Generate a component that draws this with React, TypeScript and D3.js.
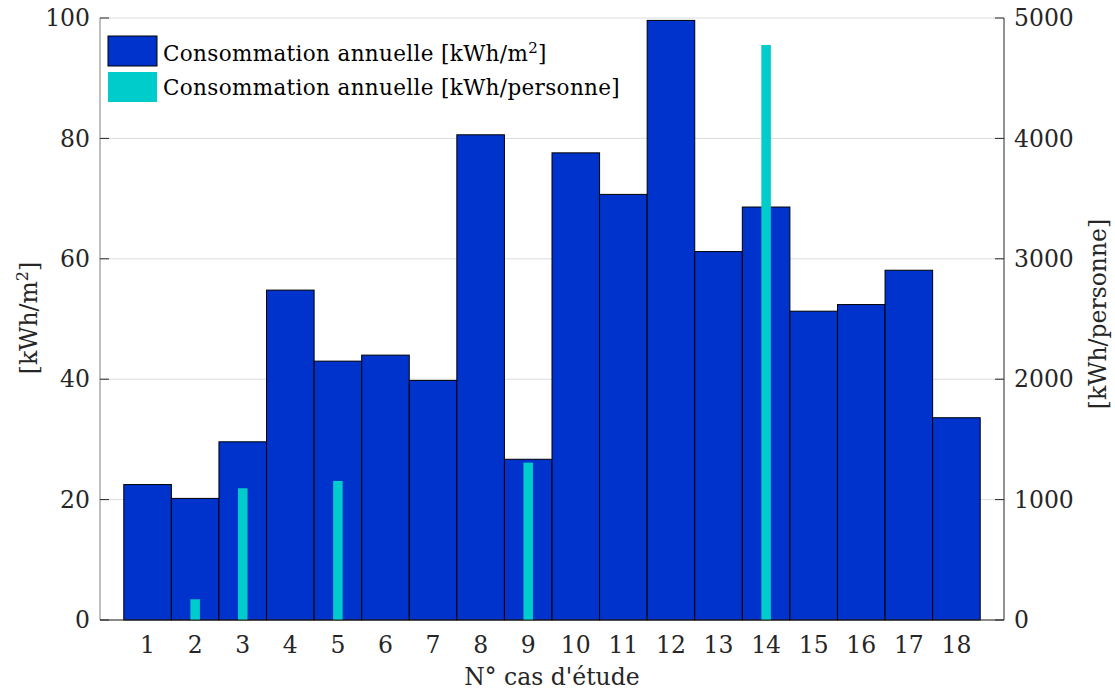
import React from "react";
import * as d3 from "d3";

const categories = [1,2,3,4,5,6,7,8,9,10,11,12,13,14,15,16,17,18];
const consoM2 = [22.5,20.2,29.6,54.8,43.0,44.0,39.8,80.6,26.7,77.6,70.7,99.6,61.2,68.6,51.3,52.4,58.1,33.6];
const consoPers = [0,172,1094,0,1155,0,0,0,1307,0,0,0,0,4776,0,0,0,0];
const leftTicks = [0,20,40,60,80,100];
const rightTicks = [0,1000,2000,3000,4000,5000];

const W = 1115, H = 691;
const L = 100, R = 1004, T = 18, B = 620;
const FONT = "'DejaVu Serif', serif";
const BLUE = "#0033cc";
const CYAN = "#00cccc";
const FS = 23.5;
const LFS = 21.5;

export default function App() {
  const x = d3.scaleLinear().domain([0, 19]).range([L, R]);
  const yL = d3.scaleLinear().domain([0, 100]).range([B, T]);
  const yR = d3.scaleLinear().domain([0, 5000]).range([B, T]);
  const bw = x(1) - x(0);
  const cw = bw * 0.2;
  return (
    <svg width={W} height={H} style={{ position: "absolute", left: 0, top: 0, background: "#fff" }} fontFamily={FONT}>
      <rect x={0} y={0} width={W} height={H} fill="#fff" />
      {leftTicks.map((t) => (
        <line key={"g" + t} x1={L} x2={R} y1={yL(t)} y2={yL(t)} stroke="#dcdcdc" strokeWidth={1} />
      ))}
      {categories.map((c, i) => (
        <rect key={"b" + c} x={x(c) - bw / 2} y={yL(consoM2[i])} width={bw} height={B - yL(consoM2[i])}
          fill={BLUE} stroke="#000" strokeWidth={1} />
      ))}
      {categories.map((c, i) => consoPers[i] > 0 ? (
        <rect key={"c" + c} x={x(c) - cw / 2} y={yR(consoPers[i])} width={cw} height={B - yR(consoPers[i])}
          fill={CYAN} />
      ) : null)}
      <line x1={L} x2={L} y1={T} y2={B} stroke="#808080" />
      <line x1={R} x2={R} y1={T} y2={B} stroke="#262626" />
      <line x1={L} x2={R} y1={B} y2={B} stroke="#262626" />
      {leftTicks.map((t) => (
        <g key={"lt" + t}>
          <line x1={L} x2={L + 9} y1={yL(t)} y2={yL(t)} stroke="#262626" />
          <text x={L - 10} y={yL(t)} dy="0.35em" textAnchor="end" fontSize={FS} fill="#262626">{t}</text>
        </g>
      ))}
      {rightTicks.map((t) => (
        <g key={"rt" + t}>
          <line x1={R - 9} x2={R} y1={yR(t)} y2={yR(t)} stroke="#262626" />
          <text x={R + 10} y={yR(t)} dy="0.35em" textAnchor="start" fontSize={FS} fill="#262626">{t}</text>
        </g>
      ))}
      {categories.map((c) => (
        <text key={"xt" + c} x={x(c)} y={645} dy="0.35em" textAnchor="middle" fontSize={FS} fill="#262626">{c}</text>
      ))}
      <text x={(L + R) / 2} y={677} dy="0.35em" textAnchor="middle" fontSize={FS} fill="#262626">N° cas d'étude</text>
      <text transform={`translate(29,${318}) rotate(-90)`} textAnchor="middle" dy="0.35em" fontSize={FS} fill="#262626">
        [kWh/m<tspan dy="-9" fontSize={16}>2</tspan><tspan dy="9">]</tspan>
      </text>
      <text transform={`translate(1098,${314}) rotate(-90)`} textAnchor="middle" dy="0.35em" fontSize={FS} fill="#262626">
        [kWh/personne]
      </text>
      <rect x={108} y={36} width={49} height={30} fill={BLUE} stroke="#000" />
      <rect x={108} y={72} width={49} height={30} fill={CYAN} />
      <text x={163} y={53} dy="0.35em" fontSize={LFS} fill="#000" letterSpacing={0.35}>
        Consommation annuelle [kWh/m<tspan dy="-8" fontSize={15}>2</tspan><tspan dy="8">]</tspan>
      </text>
      <text x={163} y={87} dy="0.35em" fontSize={LFS} fill="#000" letterSpacing={0.35}>Consommation annuelle [kWh/personne]</text>
    </svg>
  );
}
